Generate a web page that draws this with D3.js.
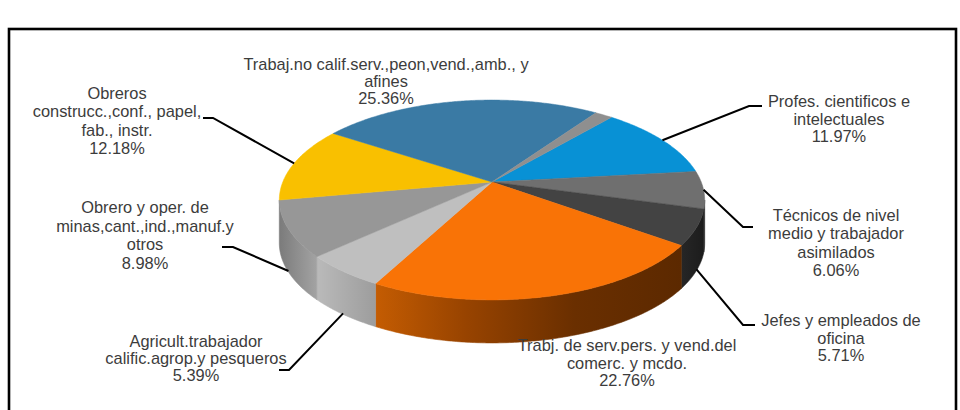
<!DOCTYPE html>
<html>
<head>
<meta charset="utf-8">
<script src="https://cdn.jsdelivr.net/npm/d3@7"></script>
<style>
  body { margin: 0; background: #fff; }
  svg { display: block; }
  text { font-family: "Liberation Sans", Arial, sans-serif; }
</style>
</head>
<body>
<svg id="chart" width="960" height="410"></svg>
<script>
// ---- data ----
const categories = [
  "Profes. cientificos e intelectuales",
  "Técnicos de nivel medio y trabajador asimilados",
  "Jefes y empleados de oficina",
  "Trabj. de serv.pers. y vend.del comerc. y mcdo.",
  "Agricult.trabajador calific.agrop.y pesqueros",
  "Obrero y oper. de minas,cant.,ind.,manuf.y otros",
  "Obreros construcc.,conf., papel, fab., instr.",
  "Trabaj.no calif.serv.,peon,vend.,amb., y afines",
  "Otros"
];
const shares = [11.97, 6.06, 5.71, 22.76, 5.39, 8.98, 12.18, 25.36, 1.59];
const labelLines = [
  ["Profes. cientificos e", "intelectuales"],
  ["Técnicos de nivel", "medio y trabajador", "asimilados"],
  ["Jefes y empleados de", "oficina"],
  ["Trabj. de serv.pers. y vend.del", "comerc. y mcdo."],
  ["Agricult.trabajador", "calific.agrop.y pesqueros"],
  ["Obrero y oper. de", "minas,cant.,ind.,manuf.y", "otros"],
  ["Obreros", "construcc.,conf., papel,", "fab., instr."],
  ["Trabaj.no calif.serv.,peon,vend.,amb., y", "afines"],
  []
];

// ---- styles ----
const topColors = ["#0891d5", "#6f6f6f", "#434343", "#f97306", "#bfbfbf", "#979797", "#f9c000", "#3a7aa4", "#8f8f8f"];
// side wall shading, left -> right on screen
const wallStops = [
  [[0, "#05628f"], [1, "#05628f"]],
  [[0, "#3a3a3a"], [1, "#333333"]],
  [[0, "#262626"], [1, "#1c1c1c"]],
  [[0, "#c45c02"], [0.3, "#974300"], [0.65, "#6a2f00"], [1, "#5c2900"]],
  [[0, "#bababa"], [1, "#9d9d9d"]],
  [[0, "#7b7b7b"], [1, "#a3a3a3"]],
  [[0, "#a78100"], [1, "#a78100"]],
  [[0, "#27526e"], [1, "#27526e"]],
  [[0, "#606060"], [1, "#606060"]]
];

// label placement: centre x, first baseline y, line height, leader elbow/end, leader anchor on wall bottom
const labelLayout = [
  { x: 839, y: 107, lh: 17.6, leader: [[749, 106], [762, 106]], wall: false },
  { x: 836, y: 221, lh: 18.3, leader: [[743, 227], [753, 227]], wall: false },
  { x: 841, y: 326, lh: 17.5, leader: [[743, 325], [755, 325]], wall: true },
  { x: 627, y: 351, lh: 17.5, leader: null, wall: false },
  { x: 196, y: 347, lh: 17, leader: [[289, 370], [279, 370]], wall: true },
  { x: 145, y: 213, lh: 18.5, leader: [[233, 247], [222, 247]], wall: true },
  { x: 117, y: 99, lh: 18.3, leader: [[213, 118], [203, 118]], wall: false },
  { x: 386, y: 70, lh: 17, leader: null, wall: false },
  null
];

// ---- geometry: tilted disc seen in perspective ----
const cx = 492, cy = 182;        // apex of the pie on screen
const focal = 1060, dist = 4.955; // perspective focal length / camera distance (unit radius)
const xStretch = 0.978;
const tilt = Math.asin(0.452);
const cosT = Math.cos(tilt), sinT = Math.sin(tilt);
const depth = 43;                 // wall thickness in px

function project(theta, dy = 0) {
  // theta measured clockwise from 12 o'clock
  const x = Math.sin(theta), z = -Math.cos(theta);
  const w = dist - z * cosT;
  return [cx + xStretch * focal * x / w, cy + focal * z * sinT / w + dy];
}

const startAngle = 40.5 * Math.PI / 180;
const pie = d3.pie().sort(null).value(d => d)
  .startAngle(startAngle).endAngle(startAngle + 2 * Math.PI);
const arcs = pie(shares);

// find the silhouette (extreme left / right) angles to know which walls face the viewer
let thR = 0, thL = 0, maxX = -Infinity, minX = Infinity;
for (let i = 0; i <= 3600; i++) {
  const t = i / 3600 * 2 * Math.PI;
  const [sx] = project(t);
  if (sx > maxX) { maxX = sx; thR = t; }
  if (sx < minX) { minX = sx; thL = t; }
}

function sampleRim(a, b, dy = 0) {
  const n = Math.max(2, Math.ceil(Math.abs(b - a) / 0.01));
  const pts = [];
  for (let i = 0; i <= n; i++) pts.push(project(a + (b - a) * i / n, dy));
  return pts;
}

const svg = d3.select("#chart");
const defs = svg.append("defs");
const line = d3.line();

// frame
svg.append("rect")
  .attr("x", 9).attr("y", 29).attr("width", 947).attr("height", 420)
  .attr("fill", "none").attr("stroke", "#000").attr("stroke-width", 2.6);

// walls
const gWall = svg.append("g");
arcs.forEach((d, i) => {
  const a = Math.max(d.startAngle, thR), b = Math.min(d.endAngle, thL);
  if (b <= a) return;
  const top = sampleRim(a, b);
  const bottom = sampleRim(a, b, depth).reverse();
  const xs = top.map(p => p[0]);
  const x0 = d3.min(xs), x1 = d3.max(xs);
  const gid = "wall" + i;
  const grad = defs.append("linearGradient").attr("id", gid)
    .attr("gradientUnits", "userSpaceOnUse")
    .attr("x1", x0).attr("x2", x1).attr("y1", 0).attr("y2", 0);
  wallStops[i].forEach(s => grad.append("stop").attr("offset", s[0]).attr("stop-color", s[1]));
  gWall.append("path")
    .attr("d", line(top.concat(bottom)) + "Z")
    .attr("fill", `url(#${gid})`)
    .attr("stroke", `url(#${gid})`).attr("stroke-width", 0.6);
});

// top faces
const gTop = svg.append("g");
arcs.forEach((d, i) => {
  const pts = [[cx, cy]].concat(sampleRim(d.startAngle, d.endAngle));
  gTop.append("path")
    .attr("d", line(pts) + "Z")
    .attr("fill", topColors[i])
    .attr("stroke", topColors[i]).attr("stroke-width", 0.5);
});

// leaders
const gLead = svg.append("g");
arcs.forEach((d, i) => {
  const L = labelLayout[i];
  if (!L || !L.leader) return;
  const mid = (d.startAngle + d.endAngle) / 2;
  const anchor = project(mid, L.wall ? depth - 1 : 0);
  gLead.append("path")
    .attr("d", line([anchor].concat(L.leader)))
    .attr("fill", "none").attr("stroke", "#000").attr("stroke-width", 2);
});

// labels
const fmt = d3.format(".2f");
const gLab = svg.append("g");
arcs.forEach((d, i) => {
  const L = labelLayout[i];
  if (!L) return;
  const lines = labelLines[i].concat([fmt(shares[i]) + "%"]);
  const t = gLab.append("text")
    .attr("text-anchor", "middle")
    .attr("font-size", 16.4)
    .attr("fill", "#3c3c3c");
  lines.forEach((s, k) => {
    t.append("tspan").attr("x", L.x).attr("y", L.y + k * L.lh).text(s);
  });
});
</script>
</body>
</html>
